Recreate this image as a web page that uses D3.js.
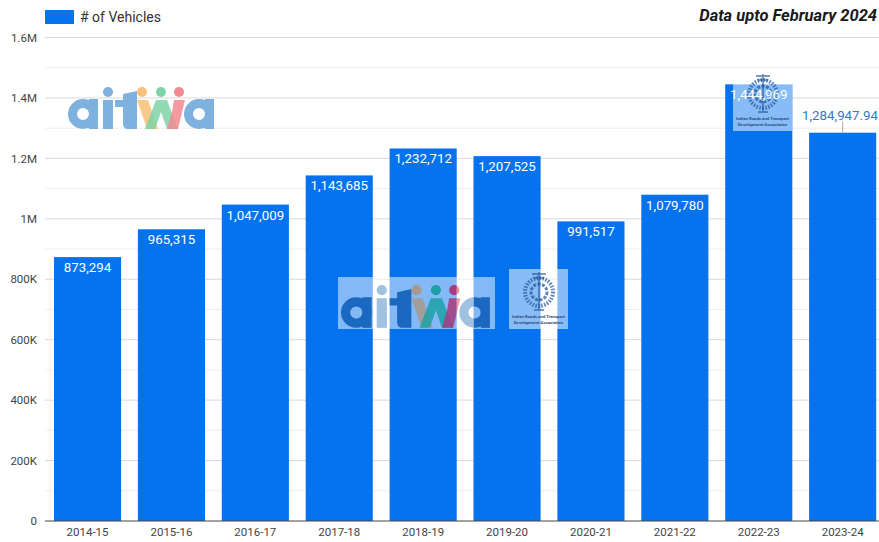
<!DOCTYPE html>
<html>
<head>
<meta charset="utf-8">
<script src="https://cdn.jsdelivr.net/npm/d3@7"></script>
<style>
html,body{margin:0;padding:0;background:#fff;overflow:hidden}
svg{display:block}
text{font-family:Roboto,Inter,sans-serif}
</style>
</head>
<body>
<svg id="chart" width="879" height="542"></svg>
<script>
const categories = ["2014-15","2015-16","2016-17","2017-18","2018-19","2019-20","2020-21","2021-22","2022-23","2023-24"];
const vehicles = [873294,965315,1047009,1143685,1232712,1207525,991517,1079780,1444969,1284947.94];
const valueLabels = ["873,294","965,315","1,047,009","1,143,685","1,232,712","1,207,525","991,517","1,079,780","1,444,969","1,284,947.94"];
const majorTicks = [0,200000,400000,600000,800000,1000000,1200000,1400000,1600000];
const majorTickLabels = ["0","200K","400K","600K","800K","1M","1.2M","1.4M","1.6M"];
const minorTicks = [100000,300000,500000,700000,900000,1100000,1300000,1500000];
const legendLabel = "# of Vehicles";
const noteText = "Data upto February 2024";
const lightMarkColors = ["#f8c078","#7fd4a6","#f28a92"];
const darkMarkColors = ["#a8998a","#1ea0a6","#a83a80"];

const svg = d3.select("#chart");
const y = d3.scaleLinear().domain([0,1600000]).range([521,37.5]);
const x = d3.scaleBand().domain(categories).range([45.6,884.6]).paddingInner(0.2).paddingOuter(0.1);
const BAR = "#0673ee";

// Gridlines: heavier at labelled values, lighter between them
svg.append("g").selectAll("line").data(minorTicks).join("line")
  .attr("x1",45).attr("x2",879).attr("y1",d=>y(d)).attr("y2",d=>y(d))
  .attr("stroke","#ececec").attr("stroke-width",1);
svg.append("g").selectAll("line").data(majorTicks.slice(1)).join("line")
  .attr("x1",45).attr("x2",879).attr("y1",d=>y(d)).attr("y2",d=>y(d))
  .attr("stroke","#d9d9d9").attr("stroke-width",1);

// Bars
svg.append("g").selectAll("rect").data(categories).join("rect")
  .attr("x",d=>x(d)).attr("width",x.bandwidth())
  .attr("y",(d,i)=>y(vehicles[i])).attr("height",(d,i)=>y(0)-y(vehicles[i]))
  .attr("fill",BAR);

// Axes
const yAxis = d3.axisLeft(y).tickValues(majorTicks).tickSize(0).tickPadding(0)
  .tickFormat(d=>majorTickLabels[majorTicks.indexOf(d)]);
const yG = svg.append("g").attr("transform","translate(37,0)").call(yAxis);
yG.select(".domain").remove();
yG.selectAll("text").attr("font-size",11.5).attr("fill","#444");

const xAxis = d3.axisBottom(x).tickSize(0).tickPadding(7);
const xG = svg.append("g").attr("transform","translate(0,521)").call(xAxis);
xG.select(".domain").remove();
xG.selectAll("text").attr("font-size",11.5).attr("fill","#444");
svg.append("line").attr("x1",45).attr("x2",879).attr("y1",y(0)).attr("y2",y(0))
  .attr("stroke","#444").attr("stroke-width",1);

// Legend and note
svg.append("rect").attr("x",45).attr("y",10).attr("width",29).attr("height",14).attr("fill",BAR);
svg.append("text").attr("x",80).attr("y",21.5).attr("font-size",14).attr("fill","#333").text(legendLabel);
svg.append("text").attr("x",877).attr("y",20.5).attr("text-anchor","end")
  .attr("font-size",16.5).attr("font-weight",700).attr("font-style","italic").attr("fill","#1a1a1a").text(noteText);

// Association wordmark: round letters built from rings and stems
function wordmark(parent, px, py, k, blue, dots) {
  const g = parent.append("g").attr("transform",`translate(${px},${py}) scale(${k})`);
  const letterA = cx => {
    g.append("circle").attr("cx",cx).attr("cy",27).attr("r",10.5)
      .attr("fill","none").attr("stroke",blue).attr("stroke-width",9);
    g.append("rect").attr("x",cx+6).attr("y",12).attr("width",9).attr("height",30).attr("fill",blue);
  };
  letterA(15);
  g.append("rect").attr("x",35).attr("y",13).attr("width",10).attr("height",29).attr("fill",blue);
  g.append("circle").attr("cx",40).attr("cy",5).attr("r",5).attr("fill",blue);
  g.append("path").attr("d","M55 7L69 4V42H60Q55 42 55 36V20H47V13H55Z").attr("fill",blue);
  [[74,dots[0]],[93,dots[1]],[111,dots[2]]].forEach(([cx,c])=>{
    g.append("circle").attr("cx",cx).attr("cy",5).attr("r",5).attr("fill",c);
  });
  g.append("path").attr("d","M69 13H80L90 42H79Z").attr("fill",dots[0]).attr("fill-opacity",.85);
  g.append("path").attr("d","M88 13H99L110 42H99L93 25L87 42H77Z").attr("fill",dots[1]).attr("fill-opacity",.85);
  g.append("path").attr("d","M106 13H117L110 42H99L104 25Z").attr("fill",dots[2]).attr("fill-opacity",.85);
  letterA(131);
  return g;
}

// Association seal: engraved disc with its name underneath
function seal(parent, bx, by) {
  const g = parent.append("g").attr("transform",`translate(${bx},${by})`);
  g.append("rect").attr("width",59).attr("height",60).attr("fill","#fff").attr("fill-opacity",.52);
  const c = g.append("g").attr("transform","translate(30,23)");
  c.append("circle").attr("r",14).attr("fill","none").attr("stroke","#2a5c9e").attr("stroke-width",4).attr("stroke-dasharray","1.6 1.4").attr("opacity",.75);
  c.append("circle").attr("r",8).attr("fill","none").attr("stroke","#1f4f94").attr("stroke-width",3).attr("stroke-dasharray","3 1.5").attr("opacity",.7);
  c.append("path").attr("d","M0 -20V17M-7 -18H7M-5 -14H5M-5 18H5").attr("stroke","#1f4f94").attr("stroke-width",1.4).attr("fill","none").attr("opacity",.75);
  g.append("text").attr("x",29.5).attr("y",49).attr("text-anchor","middle").attr("font-size",4.3).attr("font-weight",700).attr("fill","#33507f").text("Indian Roads and Transport");
  g.append("text").attr("x",29.5).attr("y",55).attr("text-anchor","middle").attr("font-size",4.3).attr("font-weight",700).attr("fill","#33507f").text("Development Association");
}

wordmark(svg, 68, 87, 1.0, "#7eb1de", lightMarkColors);

// Central wordmark sits on a pale panel: deep colours over bars, pale over the gaps between them
svg.append("rect").attr("x",338).attr("y",277).attr("width",157).attr("height",52).attr("fill","#fff").attr("fill-opacity",.5);
const defs = svg.append("defs");
defs.append("clipPath").attr("id","over-bars").selectAll("rect").data(categories).join("rect")
  .attr("x",d=>x(d)).attr("width",x.bandwidth()).attr("y",0).attr("height",542);
defs.append("clipPath").attr("id","over-gaps").selectAll("rect").data(categories.slice(1)).join("rect")
  .attr("x",d=>x(d)-x.step()+x.bandwidth()).attr("width",x.step()-x.bandwidth()).attr("y",0).attr("height",542);
wordmark(svg.append("g").attr("clip-path","url(#over-bars)"), 341, 285, 1.02, "#1a68c0", darkMarkColors);
wordmark(svg.append("g").attr("clip-path","url(#over-gaps)"), 341, 285, 1.02, "#a0c2e0", lightMarkColors);

seal(svg, 509, 269);
seal(svg, 733, 71);

// Value labels, white inside the bars; the last one sits above its bar on a leader
const labels = svg.append("g");
labels.selectAll("text").data(categories).join("text")
  .attr("x",(d,i)=> i===9 ? 878 : x(d)+x.bandwidth()/2)
  .attr("y",(d,i)=> i===9 ? y(vehicles[i])-13 : y(vehicles[i])+15)
  .attr("text-anchor",(d,i)=> i===9 ? "end" : "middle").attr("font-size",13.3)
  .attr("fill",(d,i)=> i===9 ? "#3a78c0" : "#fff")
  .text((d,i)=>valueLabels[i]);
const last = categories[9];
svg.append("line")
  .attr("x1",x(last)+x.bandwidth()/2).attr("x2",x(last)+x.bandwidth()/2)
  .attr("y1",y(vehicles[9])-11).attr("y2",y(vehicles[9]))
  .attr("stroke","#aaa").attr("stroke-width",1);
</script>
</body>
</html>
